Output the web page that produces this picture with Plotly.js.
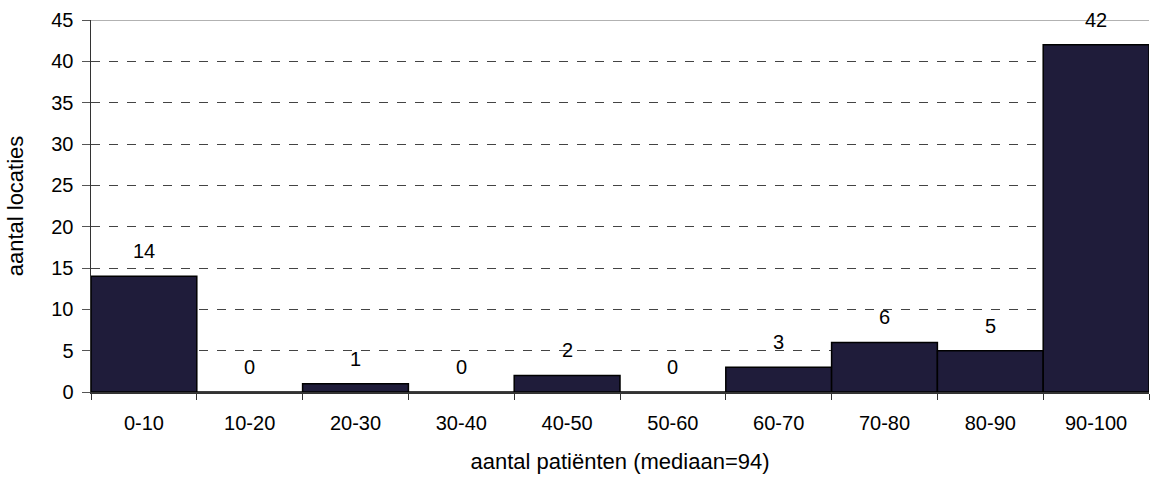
<!DOCTYPE html>
<html>
<head>
<meta charset="utf-8">
<script src="https://cdn.plot.ly/plotly-3.0.1.min.js"></script>
<style>html,body{margin:0;padding:0;background:#fff;}#chart{width:1150px;height:480px;}</style>
</head>
<body>
<div id="chart"></div>
<script>
const categories = ["0-10","10-20","20-30","30-40","40-50","50-60","60-70","70-80","80-90","90-100"];
const counts = [14,0,1,0,2,0,3,6,5,42];
const yTicks = [0,5,10,15,20,25,30,35,40,45];

const fam = "Liberation Sans, Arial, sans-serif";
const font = {family: fam, size: 20, color: "#000"};
const titleFont = {family: fam, size: 22, color: "#000"};

const trace = {
  type: "bar",
  x: categories,
  y: counts,
  marker: {color: "#1f1c3a", line: {color: "#000", width: 1.5}},
  hoverinfo: "x+y"
};

const annotations = categories.map((c, i) => ({
  x: c, y: counts[i], xref: "x", yref: "y",
  text: String(counts[i]), showarrow: false,
  yanchor: "bottom", yshift: 12,
  font: font
}));

const layout = {
  width: 1150, height: 480,
  margin: {l: 91, r: 1, t: 20, b: 88},
  paper_bgcolor: "#fff", plot_bgcolor: "#fff",
  bargap: 0,
  showlegend: false,
  font: font,
  xaxis: {
    type: "category",
    tickson: "boundaries",
    ticks: "outside", ticklen: 6, tickcolor: "#333", tickwidth: 1,
    ticklabelstandoff: 12,
    showline: true, linecolor: "#333", linewidth: 1.5,
    showgrid: false,
    tickfont: font,
    title: {text: "aantal patiënten (mediaan=94)", font: titleFont, standoff: 21}
  },
  yaxis: {
    range: [0, 45],
    tickvals: yTicks,
    ticks: "outside", ticklen: 8, tickcolor: "#555", tickwidth: 1,
    ticklabelstandoff: 4,
    showline: true, linecolor: "#333", linewidth: 1.5,
    showgrid: true, gridcolor: "#444", griddash: "dash", gridwidth: 1,
    zeroline: false,
    tickfont: font,
    title: {text: "aantal locaties", font: titleFont, standoff: 21}
  },
  shapes: [{
    type: "line", xref: "paper", yref: "y", x0: 0, x1: 1, y0: 45, y1: 45,
    line: {color: "#999", width: 1.5}, layer: "above"
  }],
  annotations: annotations
};

Plotly.newPlot("chart", [trace], layout, {displayModeBar: false, staticPlot: true});
</script>
</body>
</html>
